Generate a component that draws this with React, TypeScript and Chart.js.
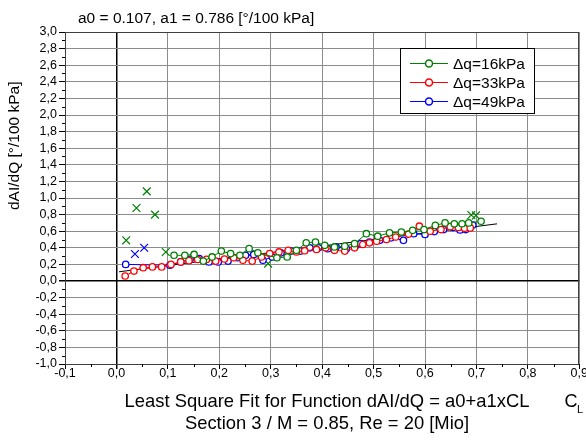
import React, { useEffect, useRef } from "react";
import { Chart, registerables } from "chart.js";

Chart.register(...registerables);

// Fit coefficients: dAI/dQ = a0 + a1 * CL
const A0 = 0.107;
const A1 = 0.786;
const FIT_CL = [0.005, 0.74];

// Δq = 16 kPa
const green16CL = [0.112, 0.133, 0.151, 0.169, 0.186, 0.204, 0.222, 0.24, 0.258, 0.275, 0.312, 0.332, 0.35, 0.369, 0.387, 0.405, 0.424, 0.444, 0.463, 0.486, 0.508, 0.531, 0.554, 0.576, 0.598, 0.62, 0.639, 0.657, 0.672, 0.685, 0.709];
const green16Val = [0.31, 0.31, 0.32, 0.24, 0.29, 0.36, 0.33, 0.31, 0.39, 0.34, 0.28, 0.29, 0.37, 0.46, 0.47, 0.43, 0.41, 0.42, 0.45, 0.57, 0.54, 0.58, 0.59, 0.61, 0.62, 0.67, 0.7, 0.69, 0.69, 0.7, 0.72];
const green16OutCL = [0.019, 0.039, 0.059, 0.075, 0.096, 0.295, 0.69, 0.699];
const green16OutVal = [0.49, 0.88, 1.08, 0.8, 0.35, 0.21, 0.795, 0.79];

// Δq = 33 kPa
const red33CL = [0.017, 0.034, 0.052, 0.07, 0.088, 0.106, 0.125, 0.141, 0.158, 0.175, 0.193, 0.21, 0.228, 0.246, 0.264, 0.282, 0.298, 0.316, 0.334, 0.35, 0.366, 0.389, 0.407, 0.424, 0.444, 0.463, 0.479, 0.492, 0.506, 0.525, 0.543, 0.568, 0.589, 0.61, 0.631, 0.649, 0.665, 0.677, 0.688];
const red33Val = [0.06, 0.12, 0.16, 0.17, 0.17, 0.2, 0.23, 0.245, 0.26, 0.26, 0.24, 0.265, 0.28, 0.25, 0.24, 0.29, 0.33, 0.35, 0.37, 0.35, 0.365, 0.38, 0.4, 0.37, 0.36, 0.4, 0.44, 0.46, 0.48, 0.5, 0.53, 0.565, 0.66, 0.6, 0.62, 0.655, 0.645, 0.635, 0.64];

// Δq = 49 kPa
const blue49CL = [0.018, 0.104, 0.125, 0.143, 0.161, 0.18, 0.198, 0.217, 0.235, 0.251, 0.267, 0.285, 0.303, 0.32, 0.34, 0.358, 0.376, 0.393, 0.411, 0.427, 0.447, 0.466, 0.475, 0.492, 0.512, 0.534, 0.558, 0.578, 0.6, 0.618, 0.636, 0.654, 0.668, 0.679, 0.693];
const blue49Val = [0.2, 0.19, 0.23, 0.26, 0.27, 0.23, 0.23, 0.24, 0.28, 0.31, 0.32, 0.25, 0.29, 0.34, 0.36, 0.36, 0.4, 0.4, 0.39, 0.41, 0.39, 0.43, 0.45, 0.47, 0.49, 0.52, 0.49, 0.57, 0.56, 0.595, 0.62, 0.645, 0.615, 0.62, 0.675];
const blue49OutCL = [0.036, 0.054];
const blue49OutVal = [0.325, 0.4];

const seriesLabels = ["Δq=16kPa", "Δq=33kPa", "Δq=49kPa"];
const seriesColors = ["#008000", "#ff0000", "#0000ff"];

const titleText = "a0 = 0.107, a1 = 0.786 [°/100 kPa]";
const yTitle = "dAI/dQ [°/100 kPa]";
const footLine1 = "Least Square Fit for Function dAI/dQ = a0+a1xCL";
const footLine2 = "Section 3 / M = 0.85, Re = 20 [Mio]";

const FONT = "'Liberation Sans', Arial, sans-serif";

const pts = (xs: number[], ys: number[]) => xs.map((x, i) => ({ x, y: ys[i] }));

const fmt = (v: number) => (Math.abs(v) < 1e-9 ? "0,0" : v.toFixed(1).replace(".", ","));
const isZero = (v: number) => Math.abs(v) < 1e-9;

const decorations = {
  id: "decorations",
  afterDraw(chart: any) {
    const { ctx, chartArea: a, scales } = chart;
    const xs = scales.x;
    const ys = scales.y;
    ctx.save();

    // plot frame
    ctx.strokeStyle = "#404040";
    ctx.lineWidth = 1;
    ctx.strokeRect(Math.round(a.left) + 0.5, Math.round(a.top) + 0.5, Math.round(a.right - a.left) - 1, Math.round(a.bottom - a.top));

    // minor ticks
    ctx.strokeStyle = "#000";
    ctx.beginPath();
    for (let i = 0; i < 20; i++) {
      const v = -0.9 + i * 0.2;
      const py = Math.round(ys.getPixelForValue(v)) + 0.5;
      ctx.moveTo(a.left - 3, py);
      ctx.lineTo(a.left, py);
    }
    for (let i = 0; i < 10; i++) {
      const v = -0.05 + i * 0.1;
      const px = Math.round(xs.getPixelForValue(v)) + 0.5;
      ctx.moveTo(px, a.bottom);
      ctx.lineTo(px, a.bottom + 3);
    }
    ctx.stroke();

    ctx.fillStyle = "#000";
    // top title
    ctx.font = `15.5px ${FONT}`;
    ctx.textAlign = "left";
    ctx.textBaseline = "middle";
    ctx.fillText(titleText, 78, 19);

    // y axis title
    ctx.save();
    ctx.translate(15, 210);
    ctx.rotate(-Math.PI / 2);
    ctx.textAlign = "left";
    ctx.textBaseline = "middle";
    ctx.font = `15.5px ${FONT}`;
    ctx.fillText(yTitle, 0, 0);
    ctx.restore();

    // x axis title C_L
    ctx.textAlign = "center";
    ctx.font = `18px ${FONT}`;
    ctx.fillText("C", 571, 402);
    ctx.font = `11px ${FONT}`;
    ctx.fillText("L", 580, 410);

    // footer
    ctx.font = `18.4px ${FONT}`;
    ctx.fillText(footLine1, 327, 402);
    ctx.fillText(footLine2, 327, 424);

    // legend
    const lx = 400.5, ly = 48.5, lw = 134, lh = 65;
    ctx.fillStyle = "#fff";
    ctx.fillRect(lx, ly, lw, lh);
    ctx.strokeStyle = "#000";
    ctx.lineWidth = 1;
    ctx.strokeRect(lx, ly, lw, lh);
    ctx.font = `15.5px ${FONT}`;
    ctx.textAlign = "left";
    for (let i = 0; i < seriesLabels.length; i++) {
      const cy = 63.5 + i * 19;
      ctx.strokeStyle = seriesColors[i];
      ctx.lineWidth = 1;
      ctx.beginPath();
      ctx.moveTo(410, cy);
      ctx.lineTo(448, cy);
      ctx.stroke();
      ctx.fillStyle = "#fff";
      ctx.beginPath();
      ctx.arc(429, cy, 3.5, 0, Math.PI * 2);
      ctx.fill();
      ctx.lineWidth = 1.5;
      ctx.stroke();
      ctx.fillStyle = "#000";
      ctx.fillText(seriesLabels[i], 453, cy + 1);
    }
    ctx.restore();
  },
};

export default function App() {
  const ref = useRef<HTMLCanvasElement>(null);

  useEffect(() => {
    const series = (i: number, xs: number[], ys: number[]) => ({
      label: seriesLabels[i],
      data: pts(xs, ys),
      showLine: true,
      borderColor: seriesColors[i],
      borderWidth: 1,
      pointBorderColor: seriesColors[i],
      pointBackgroundColor: "#fff",
      pointRadius: 3.2,
      pointBorderWidth: 1.3,
    });
    const outliers = (i: number, xs: number[], ys: number[]) => ({
      label: seriesLabels[i] + " excluded",
      data: pts(xs, ys),
      showLine: false,
      pointStyle: "crossRot",
      pointRadius: 5.5,
      pointBorderWidth: 1.2,
      pointBorderColor: seriesColors[i],
      borderColor: seriesColors[i],
    });

    const tickFont = { size: 12.5, family: FONT, lineHeight: 1.2 };

    const chart = new Chart(ref.current!, {
      type: "scatter",
      data: {
        datasets: [
          series(0, green16CL, green16Val),
          series(1, red33CL, red33Val),
          series(2, blue49CL, blue49Val),
          outliers(0, green16OutCL, green16OutVal),
          outliers(2, blue49OutCL, blue49OutVal),
          {
            label: "fit",
            data: FIT_CL.map((x) => ({ x, y: A0 + A1 * x })),
            showLine: true,
            borderColor: "#000",
            borderWidth: 1,
            pointRadius: 0,
            order: 5,
          },
        ] as any,
      },
      options: {
        responsive: false,
        animation: false,
        events: [],
        layout: { padding: { top: 32, right: 6, left: 0, bottom: 0 } },
        plugins: { legend: { display: false }, tooltip: { enabled: false }, title: { display: false } },
        scales: {
          x: {
            type: "linear",
            min: -0.1,
            max: 0.9,
            afterFit: (s: any) => {
              s.height = 80;
            },
            ticks: {
              stepSize: 0.1,
              autoSkip: false,
              maxRotation: 0,
              padding: -3,
              color: "#000",
              font: tickFont,
              callback: (v: any) => fmt(Number(v)),
            },
            grid: {
              color: (c: any) => (isZero(c.tick.value) ? "#000" : "#8c8c8c"),
              lineWidth: (c: any) => (isZero(c.tick.value) ? 1.5 : 1),
              tickColor: "#000",
              tickLength: 5,
            },
            border: { display: true, color: "#000", width: 1 },
          },
          y: {
            type: "linear",
            min: -1,
            max: 3,
            afterFit: (s: any) => {
              s.width = 65;
            },
            ticks: {
              stepSize: 0.2,
              maxTicksLimit: 30,
              autoSkip: false,
              padding: 2,
              color: "#000",
              font: tickFont,
              callback: (v: any) => fmt(Number(v)),
            },
            grid: {
              color: (c: any) => (isZero(c.tick.value) ? "#000" : "#8c8c8c"),
              lineWidth: (c: any) => (isZero(c.tick.value) ? 1.5 : 1),
              tickColor: "#000",
              tickLength: 6,
            },
            border: { display: true, color: "#000", width: 1 },
          },
        },
      },
      plugins: [decorations],
    });
    return () => chart.destroy();
  }, []);

  return (
    <div style={{ position: "absolute", left: 0, top: 0, width: 586, height: 444, background: "#fff" }}>
      <canvas ref={ref} width={586} height={444} style={{ display: "block" }} />
    </div>
  );
}
